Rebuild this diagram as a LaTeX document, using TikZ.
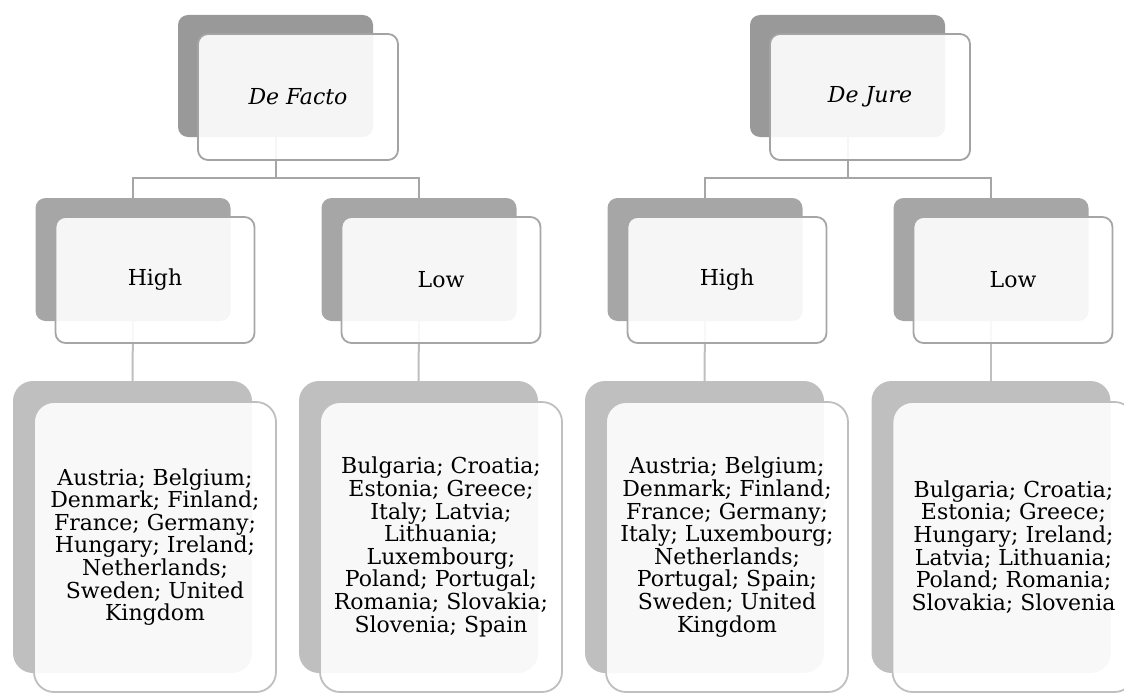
\documentclass[tikz,border=0pt]{standalone}
\usepackage{fontspec}
\setmainfont{DejaVu Serif}
\definecolor{topgray}{HTML}{999999}
\definecolor{midgray}{HTML}{A6A6A6}
\definecolor{lowgray}{HTML}{BFBFBF}
\definecolor{topline}{HTML}{A3A3A3}
\begin{document}
\begin{tikzpicture}[x=1pt,y=-1pt,
  every node/.style={inner sep=0pt,outer sep=0pt,anchor=north west},
  txt/.style={font=\fontsize{22}{22.6}\selectfont,align=center,text=black},
  backtop/.style={fill=topgray,rounded corners=10pt,minimum width=195pt,minimum height=122pt},
  fronttop/.style={draw=topline,line width=1.8pt,fill=white,fill opacity=0.9,text opacity=1,rounded corners=10pt,minimum width=200pt,minimum height=126pt,txt},
  backmid/.style={fill=midgray,rounded corners=10pt,minimum width=195pt,minimum height=123pt},
  frontmid/.style={draw=midgray,line width=1.8pt,fill=white,fill opacity=0.9,text opacity=1,rounded corners=10pt,minimum width=199pt,minimum height=126pt,txt},
  backlow/.style={fill=lowgray,rounded corners=20pt,minimum width=239pt,minimum height=292pt},
  frontlow/.style={draw=lowgray,line width=1.8pt,fill=white,fill opacity=0.9,text opacity=1,rounded corners=20pt,minimum width=242pt,minimum height=290pt,txt},
  conA/.style={draw=midgray,line width=2pt},
  conB/.style={draw=lowgray,line width=2pt}]
\useasboundingbox (0,0) rectangle (1124,693);

% back boxes
\node[backtop] (dfB) at (178,15) {};
\node[backtop] (djB) at (750,15) {};
\node[backmid] (h1B) at (35.5,198) {};
\node[backmid] (l1B) at (321.5,198) {};
\node[backmid] (h2B) at (607.5,198) {};
\node[backmid] (l2B) at (893.5,198) {};
\node[backlow] (c1B) at (13,381) {};
\node[backlow] (c2B) at (299,381) {};
\node[backlow] (c3B) at (585,381) {};
\node[backlow] (c4B) at (871.5,381) {};

% connectors
\draw[conA] (dfB.south) -- ++(0,41) -| (h1B.north);
\draw[conA] (dfB.south) -- ++(0,41) -| (l1B.north);
\draw[conA] (djB.south) -- ++(0,41) -| (h2B.north);
\draw[conA] (djB.south) -- ++(0,41) -| (l2B.north);
\draw[conB] (h1B.south) -- (c1B.north);
\draw[conB] (l1B.south) -- (c2B.north);
\draw[conB] (h2B.south) -- (c3B.north);
\draw[conB] (l2B.south) -- (c4B.north);

% front boxes
\node[fronttop] (dfF) at (198,34) {\itshape De Facto};
\node[fronttop] (djF) at (770,34) {\itshape De Jure};
\node[frontmid] (h1F) at (55.5,217) {High};
\node[frontmid] (l1F) at (341.5,217) {Low};
\node[frontmid] (h2F) at (627.5,217) {High};
\node[frontmid] (l2F) at (913.5,217) {Low};
\node[frontlow] (c1F) at (34,402) {Austria; Belgium;\\Denmark; Finland;\\France; Germany;\\Hungary; Ireland;\\Netherlands;\\Sweden; United\\Kingdom};
\node[frontlow] (c2F) at (320,402) {Bulgaria; Croatia;\\Estonia; Greece;\\Italy; Latvia;\\Lithuania;\\Luxembourg;\\Poland; Portugal;\\Romania; Slovakia;\\Slovenia; Spain};
\node[frontlow] (c3F) at (606,402) {Austria; Belgium;\\Denmark; Finland;\\France; Germany;\\Italy; Luxembourg;\\Netherlands;\\Portugal; Spain;\\Sweden; United\\Kingdom};
\node[frontlow] (c4F) at (892.5,402) {Bulgaria; Croatia;\\Estonia; Greece;\\Hungary; Ireland;\\Latvia; Lithuania;\\Poland; Romania;\\Slovakia; Slovenia};
\end{tikzpicture}
\end{document}
